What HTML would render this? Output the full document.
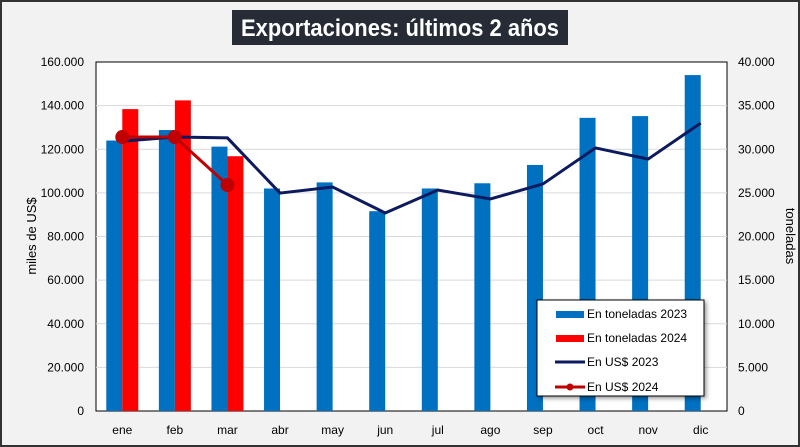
<!DOCTYPE html>
<html><head><meta charset="utf-8"><style>
body{margin:0;background:#fff}
svg{display:block;font-family:"Liberation Sans",sans-serif}
</style></head><body>
<svg width="800" height="447" viewBox="0 0 800 447">
<rect x="1" y="1" width="798" height="445" fill="#f2f2f2" stroke="#333" stroke-width="2"/>
<rect x="232" y="10" width="336" height="35" fill="#262b36"/>
<text x="400" y="36" text-anchor="middle" font-size="24" font-weight="bold" fill="#fff" textLength="318" lengthAdjust="spacingAndGlyphs">Exportaciones: últimos 2 años</text>
<rect x="96" y="62" width="631" height="349" fill="#fff" stroke="#000" stroke-width="1"/>
<g id="grid"></g><g id="bars"></g><g id="lines"></g><g id="axes"></g>
<text transform="translate(36,236) rotate(-90)" text-anchor="middle" font-size="13">miles de US$</text>
<text transform="translate(786,236) rotate(90)" text-anchor="middle" font-size="13">toneladas</text>
<g>
<rect x="537" y="300" width="167" height="96" fill="#fff" stroke="#000" stroke-width="1" style="filter:drop-shadow(2px 2px 2px rgba(0,0,0,0.4))"/>
<rect x="556" y="311" width="28" height="7" fill="#0070c0"/>
<text x="587" y="318" font-size="12">En toneladas 2023</text>
<rect x="556" y="335" width="28" height="7" fill="#ff0000"/>
<text x="587" y="342" font-size="12">En toneladas 2024</text>
<line x1="555" y1="362" x2="585" y2="362" stroke="#0d1a5e" stroke-width="3"/>
<text x="587" y="366" font-size="12">En US$ 2023</text>
<line x1="555" y1="387" x2="585" y2="387" stroke="#c00000" stroke-width="3"/>
<circle cx="570" cy="387" r="3.5" fill="#c00000"/>
<text x="587" y="391" font-size="12">En US$ 2024</text>
</g>
</svg>
<script>
const categories=["ene","feb","mar","abr","may","jun","jul","ago","sep","oct","nov","dic"];
const ton2023=[31000,32200,30300,25500,26200,22900,25500,26100,28200,33600,33800,38500];
const ton2024=[34600,35600,29200];
const usd2023=[123.7,125.6,125.2,99.9,102.7,90.8,101.3,97.2,104.1,120.6,115.5,132.0];
const usd2024=[125.6,125.6,103.6];
const leftTicks=["0","20.000","40.000","60.000","80.000","100.000","120.000","140.000","160.000"];
const rightTicks=["0","5.000","10.000","15.000","20.000","25.000","30.000","35.000","40.000"];
const NS="http://www.w3.org/2000/svg";
const L=96,R=727,T=62,B=411,band=(R-L)/categories.length;
const xC=i=>L+band*(i+0.5);
const yL=v=>B-v/160*(B-T);
const yR=v=>B-v/40000*(B-T);
function mk(tag,attrs,parent){const e=document.createElementNS(NS,tag);for(const k in attrs)e.setAttribute(k,attrs[k]);document.getElementById(parent).appendChild(e);return e;}
leftTicks.forEach((t,i)=>{
 const y=B-i*(B-T)/8;
 if(i>0&&i<8){const g=mk('line',{x1:L,x2:R,y1:y,y2:y,stroke:'#d9d9d9'},'grid');
 
 }
 const a=mk('text',{x:84,y:y+4,'text-anchor':'end','font-size':12},'axes');a.textContent=t;
 
 
 const b=mk('text',{x:738,y:y+4,'font-size':12},'axes');b.textContent=rightTicks[i];
 
 
});
categories.forEach((c,i)=>{
 const t=mk('text',{x:xC(i),y:434,'text-anchor':'middle','font-size':12},'axes');t.textContent=c;
 
 
});
ton2023.forEach((v,i)=>{
 const r=mk('rect',{x:xC(i)-16,y:yR(v),width:16,height:B-yR(v),fill:'#0070c0'},'bars');
 
 
});
ton2024.forEach((v,i)=>{
 const r=mk('rect',{x:xC(i),y:yR(v),width:16,height:B-yR(v),fill:'#ff0000'},'bars');
 
 
});
const p1=mk('polyline',{points:usd2023.map((v,i)=>xC(i)+','+yL(v)).join(' '),fill:'none',stroke:'#0d1a5e','stroke-width':3},'lines');


const p2=mk('polyline',{points:usd2024.map((v,i)=>xC(i)+','+yL(v)).join(' '),fill:'none',stroke:'#c00000','stroke-width':3},'lines');


usd2024.forEach((v,i)=>{
 const c=mk('circle',{cx:xC(i),cy:yL(v),r:7,fill:'#c00000'},'lines');
 
 
});
</script>
</body></html>
